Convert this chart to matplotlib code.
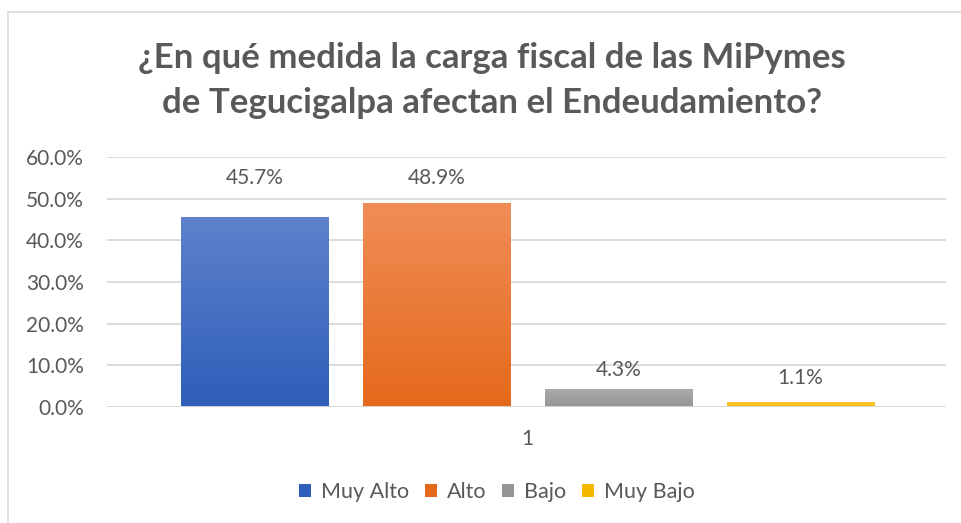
import numpy as np
import matplotlib.pyplot as plt
import matplotlib.colors as mcolors
from matplotlib.lines import Line2D
from matplotlib.patches import Patch

# data
series = ['Muy Alto', 'Alto', 'Bajo', 'Muy Bajo']
values = [0.457, 0.489, 0.043, 0.011]
labels = ['45.7%', '48.9%', '4.3%', '1.1%']
label_y = [0.55, 0.55, 0.089, 0.07]   # label heights as placed in the original
category = '1'
yticks = [0.0, 0.1, 0.2, 0.3, 0.4, 0.5, 0.6]

# gradient colours (top, bottom)
grads = [('#5E82CB', '#2E5EB9'), ('#F08D57', '#E5691B'),
         ('#ABABAB', '#959595'), ('#FFC838', '#F5B800')]

plt.rcParams['font.family'] = ['Lato', 'DejaVu Sans']
txt = '#595959'

fig = plt.figure(figsize=(9.62, 5.23), dpi=100)
ax = fig.add_axes([107/962, 1-407/523, (946-107)/962, (407-157)/523])

offsets = np.array([-1.5, -0.5, 0.5, 1.5])
w = 0.81
bars = ax.bar(offsets, values, width=w, color='none', zorder=3)
for b, (top, bot) in zip(bars, grads):
    cmap = mcolors.LinearSegmentedColormap.from_list('g', [bot, top])
    grad = np.linspace(0, 1, 100).reshape(-1, 1)
    x0, y0 = b.get_x(), b.get_y()
    im = ax.imshow(grad, cmap=cmap, aspect='auto', origin='lower',
                   extent=[x0, x0 + b.get_width(), y0, y0 + b.get_height()],
                   zorder=3)
    im.set_clip_path(b)

for x, ly, lab in zip(offsets, label_y, labels):
    ax.text(x, ly, lab, ha='center', va='center', fontsize=15, color=txt)

ax.set_xlim(-2.31, 2.30)
ax.set_ylim(0, 0.6)
ax.set_yticks(yticks)
ax.set_yticklabels(['%.1f%%' % (t*100) for t in yticks])
ax.set_xticks([0])
ax.set_xticklabels([category])
ax.tick_params(axis='y', length=0, labelsize=15, labelcolor=txt, pad=16.5)
ax.tick_params(axis='x', length=0, labelsize=15, labelcolor=txt, pad=16)
ax.grid(axis='y', color='#D9D9D9', lw=1.3, zorder=0)
for s in ax.spines.values():
    s.set_visible(False)
ax.axhline(0, color='#D9D9D9', lw=1.3, zorder=4)

fig.text(492/962, 1-58/523, '¿En qué medida la carga fiscal de las MiPymes',
         ha='center', va='center', fontsize=25, fontweight='bold', color=txt)
fig.text(492/962, 1-103/523, 'de Tegucigalpa afectan el Endeudamiento?',
         ha='center', va='center', fontsize=25, fontweight='bold', color=txt)

handles = [Patch(facecolor=c[1], edgecolor='none') for c in grads]
fig.legend(handles, series, loc='center', bbox_to_anchor=(497/962, 1-492/523),
           ncol=4, frameon=False, fontsize=15.5, labelcolor=txt,
           handlelength=0.55, handleheight=0.55, handletextpad=0.45, columnspacing=0.75)

# chart border (left and top visible)
fig.add_artist(Line2D([8/962, 8/962], [0, 1-12/523], color='#D9D9D9', lw=1.2))
fig.add_artist(Line2D([8/962, 1], [1-12/523, 1-12/523], color='#D9D9D9', lw=1.2))

fig.savefig('out.png', dpi=100)
